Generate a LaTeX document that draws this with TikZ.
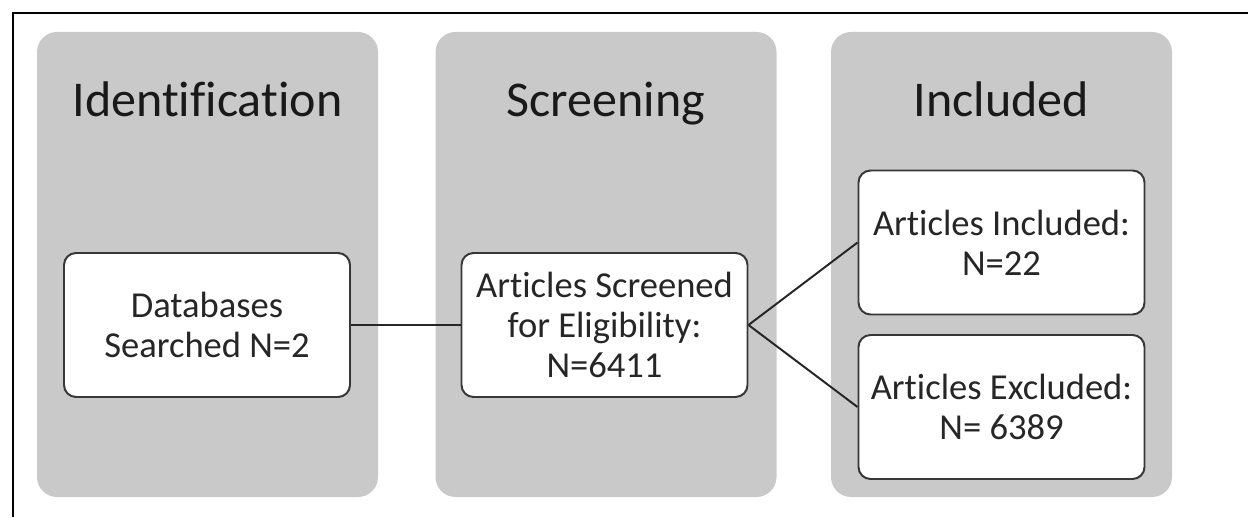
\documentclass[tikz,border=0pt]{standalone}
\usepackage{fontspec}
\setmainfont[Ligatures=NoCommon]{Carlito}
\usepackage{tikz}
\definecolor{panelgray}{RGB}{201,201,201}
\definecolor{boxline}{RGB}{55,55,55}
\tikzstyle{stage}=[shape=rectangle,rounded corners=0.5cm,fill=panelgray,minimum width=8.525cm,minimum height=11.625cm,inner sep=0pt]
\tikzstyle{title}=[anchor=base,inner sep=0pt,text=black!90,font=\fontsize{35.6}{43}\selectfont]
\tikzstyle{cn}=[shape=rectangle,rounded corners=0.3cm,draw=boxline,line width=1.4pt,fill=white,minimum width=7.15cm,minimum height=3.6cm,inner sep=0pt,align=center,text=black!85,font=\fontsize{26}{28.6}\selectfont]
\tikzstyle{link}=[draw=black!85,line width=1.4pt]

\begin{document}
\begin{tikzpicture}
        \useasboundingbox (0, 0) rectangle (31.2, 12.925);
        \draw[line width=1.6pt] (0.325, 0) -- (0.325, 12.6) -- (31.2, 12.6);
        % the three stages
        \node[stage] (S1) at (5.1875, 6.3125) {};
        \node[stage] (S2) at (15.15, 6.3125) {};
        \node[stage] (S3) at (25.0375, 6.3125) {};
        \node[title] (T1) at (5.1875, 10.0) {Identification};
        \node[title] (T2) at (15.15, 10.0) {Screening};
        \node[title] (T3) at (25.0375, 10.0) {Included};
        % the boxes
        \node[cn] (db) at (5.175, 4.8) {Databases\\Searched N=2}
        ;
        \node[cn] (scr) at (15.1125, 4.8) {Articles Screened\\for Eligibility:\\N=6411}
            edge[link] (db)
        ;
        \node[cn] (inc) at (25.0375, 6.8625) {Articles Included:\\N=22}
        ;
        \node[cn] (exc) at (25.0375, 2.75) {Articles Excluded:\\N= 6389}
        ;
        \draw[link] (scr.east) -- (inc.west);
        \draw[link] (scr.east) -- (exc.west);
    \end{tikzpicture}
\end{document}
